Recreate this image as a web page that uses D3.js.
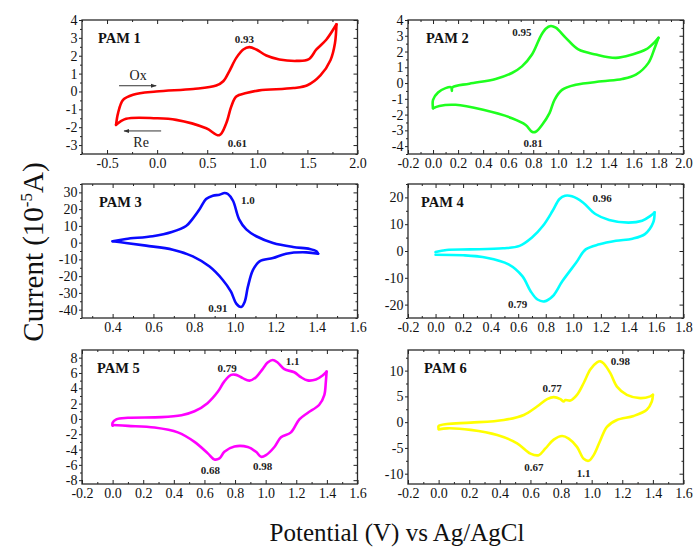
<!DOCTYPE html>
<html>
<head>
<meta charset="utf-8">
<script src="https://cdn.jsdelivr.net/npm/d3@7"></script>
<style>
body { margin: 0; background: #fff; }
svg, svg text { font-family: "Liberation Serif", "Times New Roman", "DejaVu Serif", serif; }
</style>
</head>
<body>
<script>
// ---- curve data: [potential V, current 1e-5 A] ----
// forward (oxidation) sweep, left vertex -> right vertex
var pam1Ox = [[-0.41,-1.87],[-0.39,-1.21],[-0.34,-0.47],[-0.24,-0.18],[-0.01,0.0],[0.36,0.14],[0.59,0.33],[0.66,0.57],[0.72,1.13],[0.79,1.88],[0.86,2.35],[0.92,2.48],[0.99,2.35],[1.09,2.01],[1.22,1.79],[1.39,1.71],[1.51,1.79],[1.59,2.35],[1.69,2.91],[1.79,3.76]];
// reverse (reduction) sweep, right vertex -> left vertex
var pam1Re = [[1.79,3.76],[1.775,2.7],[1.73,1.75],[1.63,0.9],[1.5,0.35],[1.36,0.19],[1.02,0.06],[0.89,-0.09],[0.79,-0.28],[0.74,-0.84],[0.69,-1.78],[0.62,-2.45],[0.49,-2.06],[0.19,-1.59],[-0.01,-1.5],[-0.31,-1.53],[-0.41,-1.87]];

var pam2Ox = [[0.0,-1.6],[0.0,-1.06],[0.04,-0.6],[0.10,-0.32],[0.145,-0.27],[0.15,-0.5],[0.155,-0.27],[0.29,-0.04],[0.5,0.26],[0.63,0.64],[0.71,1.06],[0.79,1.81],[0.86,2.98],[0.90,3.45],[0.94,3.62],[0.98,3.51],[1.06,2.87],[1.16,2.13],[1.30,1.81],[1.46,1.60],[1.59,1.81],[1.70,2.13],[1.77,2.6],[1.80,2.87]];
var pam2Re = [[1.80,2.87],[1.77,2.23],[1.72,1.28],[1.62,0.53],[1.51,0.26],[1.35,0.11],[1.14,-0.11],[1.03,-0.43],[0.97,-1.06],[0.93,-1.91],[0.87,-2.66],[0.82,-3.09],[0.79,-3.09],[0.74,-2.66],[0.63,-2.23],[0.40,-1.70],[0.18,-1.38],[0.05,-1.45],[0.0,-1.6]];

var pam3Ox = [[0.40,0.8],[0.465,2.2],[0.596,3.8],[0.69,6.3],[0.76,9.9],[0.79,13.9],[0.826,19.9],[0.858,26.0],[0.891,28.0],[0.924,28.6],[0.948,29.6],[0.965,29.0],[0.99,25.0],[1.02,13.9],[1.055,7.9],[1.104,3.8],[1.186,-0.2],[1.284,-2.6],[1.366,-3.8],[1.399,-5.2],[1.407,-6.6]];
var pam3Re = [[1.407,-6.6],[1.35,-5.8],[1.25,-6.6],[1.186,-9.2],[1.12,-11.2],[1.088,-16.3],[1.063,-26.3],[1.047,-35.4],[1.03,-38.4],[1.006,-36.4],[0.98,-29.3],[0.94,-22.3],[0.875,-14.3],[0.793,-8.2],[0.695,-4.2],[0.564,-1.8],[0.465,-0.2],[0.40,0.8]];

var pam4Ox = [[0.0,-0.4],[0.08,0.4],[0.25,0.6],[0.49,1.0],[0.61,1.9],[0.70,5.0],[0.78,9.4],[0.85,15.0],[0.90,19.4],[0.94,20.6],[0.99,20.4],[1.07,18.1],[1.16,13.8],[1.26,11.6],[1.40,10.6],[1.50,11.3],[1.56,13.1],[1.59,14.4]];
var pam4Re = [[1.59,14.4],[1.58,10.6],[1.52,6.3],[1.43,4.6],[1.31,3.8],[1.19,2.5],[1.09,0.6],[1.02,-4.4],[0.92,-11.3],[0.85,-16.9],[0.79,-18.8],[0.74,-18.1],[0.69,-15.0],[0.63,-9.4],[0.53,-5.0],[0.37,-2.5],[0.20,-1.6],[0.0,-1.4]];

var pam5Ox = [[0.0,-0.9],[0.0,-0.5],[0.024,-0.06],[0.1,0.15],[0.32,0.23],[0.45,0.49],[0.535,1.0],[0.62,2.06],[0.687,3.54],[0.73,4.9],[0.774,5.75],[0.807,5.75],[0.85,5.33],[0.894,5.0],[0.937,5.45],[0.98,6.5],[1.013,7.36],[1.046,7.7],[1.078,7.36],[1.122,6.5],[1.187,6.09],[1.23,5.45],[1.274,5.03],[1.328,5.15],[1.372,5.67],[1.398,6.17]];
var pam5Re = [[1.398,6.17],[1.393,4.82],[1.383,3.12],[1.35,1.85],[1.274,0.78],[1.22,-0.06],[1.165,-1.76],[1.10,-2.4],[1.057,-3.67],[1.002,-4.73],[0.97,-4.95],[0.937,-4.3],[0.883,-3.67],[0.796,-3.6],[0.73,-4.3],[0.698,-5.16],[0.665,-5.3],[0.622,-4.5],[0.535,-3.0],[0.426,-1.76],[0.274,-1.13],[0.1,-0.91],[0.0,-0.8]];

var pam6Ox = [[0.0,-1.2],[0.0,-0.75],[0.055,-0.36],[0.21,-0.1],[0.426,0.42],[0.557,1.4],[0.643,3.03],[0.709,4.46],[0.752,4.85],[0.796,4.46],[0.817,4.0],[0.828,4.3],[0.861,4.2],[0.904,5.3],[0.948,7.6],[0.991,10.2],[1.035,11.6],[1.057,11.8],[1.078,11.4],[1.122,9.5],[1.165,6.9],[1.23,5.3],[1.317,4.66],[1.383,5.0],[1.40,5.3]];
var pam6Re = [[1.40,5.3],[1.393,4.0],[1.36,2.4],[1.274,1.2],[1.165,0.42],[1.10,-0.9],[1.057,-3.5],[1.013,-6.4],[0.98,-7.5],[0.948,-7.1],[0.904,-4.8],[0.85,-3.2],[0.807,-2.7],[0.752,-3.4],[0.698,-5.1],[0.654,-6.4],[0.60,-6.1],[0.513,-4.1],[0.383,-2.5],[0.209,-1.5],[0.057,-1.2],[0.0,-1.4]];

// peak labels: [text, x, y]
var pam1Peaks = [["0.93",0.87,2.95],["0.61",0.80,-2.9]];
var pam2Peaks = [["0.95",0.71,3.23],["0.81",0.80,-3.83]];
var pam3Peaks = [["1.0",1.063,25.6],["0.91",0.916,-39.4]];
var pam4Peaks = [["0.96",1.21,19.6],["0.79",0.595,-20]];
var pam5Peaks = [["0.79",0.748,6.64],["1.1",1.176,7.49],["0.68",0.639,-6.64],["0.98",0.98,-6.22]];
var pam6Peaks = [["0.98",1.187,11.8],["0.77",0.741,6.6],["0.67",0.622,-8.8],["1.1",0.948,-9.8]];

// sweep direction arrows in PAM 1: [text, xStart, xEnd, y, textX, textY]
var pam1Arrows = [["Ox",-0.38,-0.01,0.32,-0.19,0.66],["Re",0.04,-0.33,-2.21,-0.16,-3.09]];

// tick values
var ticks1X = [-0.5,0,0.5,1,1.5,2], minor1X = [-0.75,-0.25,0.25,0.75,1.25,1.75];
var ticks1Y = [-3,-2,-1,0,1,2,3,4], minor1Y = [-3.5,-2.5,-1.5,-0.5,0.5,1.5,2.5,3.5];
var ticks2X = [-0.2,0,0.2,0.4,0.6,0.8,1.0,1.2,1.4,1.6,1.8,2.0], minor2X = [-0.1,0.1,0.3,0.5,0.7,0.9,1.1,1.3,1.5,1.7,1.9];
var ticks2Y = [-4,-3,-2,-1,0,1,2,3,4], minor2Y = [-4.5,-3.5,-2.5,-1.5,-0.5,0.5,1.5,2.5,3.5];
var ticks3X = [0.4,0.6,0.8,1.0,1.2,1.4,1.6], minor3X = [0.3,0.5,0.7,0.9,1.1,1.3,1.5];
var ticks3Y = [-40,-30,-20,-10,0,10,20,30], minor3Y = [-45,-35,-25,-15,-5,5,15,25,35];
var ticks4X = [-0.2,0,0.2,0.4,0.6,0.8,1.0,1.2,1.4,1.6,1.8], minor4X = [-0.1,0.1,0.3,0.5,0.7,0.9,1.1,1.3,1.5,1.7];
var ticks4Y = [-20,-10,0,10,20], minor4Y = [-25,-15,-5,5,15,25];
var ticks56X = [-0.2,0,0.2,0.4,0.6,0.8,1.0,1.2,1.4,1.6], minor56X = [-0.1,0.1,0.3,0.5,0.7,0.9,1.1,1.3,1.5];
var ticks5Y = [-8,-6,-4,-2,0,2,4,6,8], minor5Y = [-7,-5,-3,-1,1,3,5,7];
var ticks6Y = [-10,-5,0,5,10], minor6Y = [-7.5,-2.5,2.5,7.5,12.5];

var W = 696, H = 548;
var FONT = "'Liberation Serif', 'Times New Roman', 'DejaVu Serif', serif";
var colLeft = [82, 408], panelW = 275.5;
var rowTop = [20, 184, 350], panelH = 134;

var panels = [
  {name: "PAM 1", color: "#ff0000", ox: pam1Ox, re: pam1Re, peaks: pam1Peaks, col: 0, row: 0,
   xd: [-0.75, 2.0], yd: [-3.5, 4], xt: ticks1X, xm: minor1X, yt: ticks1Y, ym: minor1Y, ldx: 16},
  {name: "PAM 2", color: "#1eff1e", ox: pam2Ox, re: pam2Re, peaks: pam2Peaks, col: 1, row: 0,
   xd: [-0.2, 2.0], yd: [-4.5, 4], xt: ticks2X, xm: minor2X, yt: ticks2Y, ym: minor2Y, ldx: 18},
  {name: "PAM 3", color: "#0a0aff", ox: pam3Ox, re: pam3Re, peaks: pam3Peaks, col: 0, row: 1,
   xd: [0.25, 1.6], yd: [-45, 35], xt: ticks3X, xm: minor3X, yt: ticks3Y, ym: minor3Y, ldx: 17},
  {name: "PAM 4", color: "#00ffff", ox: pam4Ox, re: pam4Re, peaks: pam4Peaks, col: 1, row: 1,
   xd: [-0.2, 1.8], yd: [-25, 25], xt: ticks4X, xm: minor4X, yt: ticks4Y, ym: minor4Y, ldx: 13},
  {name: "PAM 5", color: "#ff00ff", ox: pam5Ox, re: pam5Re, peaks: pam5Peaks, col: 0, row: 2,
   xd: [-0.2, 1.6], yd: [-8.5, 9], xt: ticks56X, xm: minor56X, yt: ticks5Y, ym: minor5Y, ldx: 15},
  {name: "PAM 6", color: "#ffff00", ox: pam6Ox, re: pam6Re, peaks: pam6Peaks, col: 1, row: 2,
   xd: [-0.2, 1.6], yd: [-12, 14], xt: ticks56X, xm: minor56X, yt: ticks6Y, ym: minor6Y, ldx: 16}
];

var svg = d3.select("body").append("svg")
    .attr("width", W)
    .attr("height", H)
    .attr("font-family", FONT);

svg.append("rect").attr("width", W).attr("height", H).attr("fill", "#fff");

svg.append("defs").append("marker")
    .attr("id", "arr")
    .attr("viewBox", "0 0 10 10")
    .attr("refX", 9).attr("refY", 5)
    .attr("markerWidth", 6).attr("markerHeight", 6)
    .attr("orient", "auto")
    .append("path")
    .attr("d", "M0,1.5L10,5L0,8.5Z")
    .attr("fill", "#333");

function fmt(d, spec) {
    return d3.format(spec)(d).replace("\u2212", "-");
}

function styleAxis(g) {
    g.attr("font-family", FONT).attr("font-size", 14);
    g.select(".domain").remove();
    g.selectAll("line").attr("stroke", "#222").attr("stroke-width", 1);
    g.selectAll("text").attr("fill", "#111")
        .style("font-family", FONT).style("font-size", "14px");
}

function inRange(vals, dom) {
    return vals.filter(function(v) { return v >= dom[0] && v <= dom[1]; });
}

panels.forEach(function(p) {
    var x0 = colLeft[p.col], y0 = rowTop[p.row];
    var g = svg.append("g").attr("transform", "translate(" + x0 + "," + y0 + ")");

    var x = d3.scaleLinear().domain(p.xd).range([0, panelW]);
    var y = d3.scaleLinear().domain(p.yd).range([panelH, 0]);

    // bottom axis, inward ticks
    g.append("g").attr("transform", "translate(0," + panelH + ")")
        .call(d3.axisBottom(x).tickValues(p.xt).tickSize(-4).tickPadding(4.5)
            .tickFormat(function(d) { return fmt(d, ".1f"); }))
        .call(styleAxis);
    g.append("g").attr("transform", "translate(0," + panelH + ")")
        .call(d3.axisBottom(x).tickValues(p.xm).tickSize(-2).tickFormat(""))
        .call(styleAxis);
    // top mirror ticks
    g.append("g").call(d3.axisTop(x).tickValues(p.xt).tickSize(-4).tickFormat("")).call(styleAxis);
    g.append("g").call(d3.axisTop(x).tickValues(p.xm).tickSize(-2).tickFormat("")).call(styleAxis);
    // left axis, outward ticks
    g.append("g")
        .call(d3.axisLeft(y).tickValues(p.yt).tickSize(3).tickPadding(1.5)
            .tickFormat(function(d) { return fmt(d, "d"); }))
        .call(styleAxis);
    g.append("g").call(d3.axisLeft(y).tickValues(inRange(p.ym, p.yd))
        .tickSize(2).tickFormat("")).call(styleAxis);
    // right mirror ticks
    g.append("g").attr("transform", "translate(" + panelW + ",0)")
        .call(d3.axisRight(y).tickValues(p.yt).tickSize(-4).tickFormat("")).call(styleAxis);
    g.append("g").attr("transform", "translate(" + panelW + ",0)")
        .call(d3.axisRight(y).tickValues(inRange(p.ym, p.yd)).tickSize(-2).tickFormat("")).call(styleAxis);

    // frame
    g.append("rect")
        .attr("width", panelW).attr("height", panelH)
        .attr("fill", "none").attr("stroke", "#2a2a2a").attr("stroke-width", 1.3);

    // CV loop
    var line = d3.line()
        .x(function(d) { return x(d[0]); })
        .y(function(d) { return y(d[1]); })
        .curve(d3.curveCatmullRom.alpha(0.5));

    [p.ox, p.re].forEach(function(branch) {
        g.append("path")
            .datum(branch)
            .attr("d", line)
            .attr("fill", "none")
            .attr("stroke", p.color)
            .attr("stroke-width", 2.6)
            .attr("stroke-linejoin", "round")
            .attr("stroke-linecap", "round");
    });

    // panel name
    g.append("text")
        .attr("x", p.ldx).attr("y", 23)
        .style("font-family", FONT)
        .attr("font-size", "14.5px").attr("font-weight", "bold")
        .attr("fill", "#111")
        .text(p.name);

    // peak potentials
    g.selectAll(".peak").data(p.peaks).enter().append("text")
        .attr("class", "peak")
        .attr("x", function(d) { return x(d[1]); })
        .attr("y", function(d) { return y(d[2]); })
        .attr("dy", "0.35em")
        .attr("text-anchor", "middle")
        .style("font-family", FONT)
        .attr("font-size", "11px").attr("font-weight", "bold")
        .attr("fill", "#222")
        .text(function(d) { return d[0]; });

    if (p.name === "PAM 1") {
        pam1Arrows.forEach(function(a) {
            g.append("line")
                .attr("x1", x(a[1])).attr("x2", x(a[2]))
                .attr("y1", y(a[3])).attr("y2", y(a[3]))
                .attr("stroke", "#333").attr("stroke-width", 1)
                .attr("marker-end", "url(#arr)");
            g.append("text")
                .attr("x", x(a[4])).attr("y", y(a[5]))
                .attr("text-anchor", "middle")
                .style("font-family", FONT)
                .attr("font-size", "14px")
                .attr("fill", "#222")
                .text(a[0]);
        });
    }
});

// axis titles
var yTitle = svg.append("text")
    .attr("transform", "translate(43,252) rotate(-90)")
    .attr("text-anchor", "middle")
    .style("font-family", FONT)
    .attr("font-size", "29px")
    .attr("fill", "#111");
yTitle.append("tspan").text("Current (10");
yTitle.append("tspan").attr("dy", -11).attr("font-size", "17px").text("-5");
yTitle.append("tspan").attr("dy", 11).text("A)");

svg.append("text")
    .attr("x", 397).attr("y", 541)
    .attr("text-anchor", "middle")
    .style("font-family", FONT)
    .attr("font-size", "25px")
    .attr("fill", "#111")
    .text("Potential (V) vs Ag/AgCl");
</script>
</body>
</html>
